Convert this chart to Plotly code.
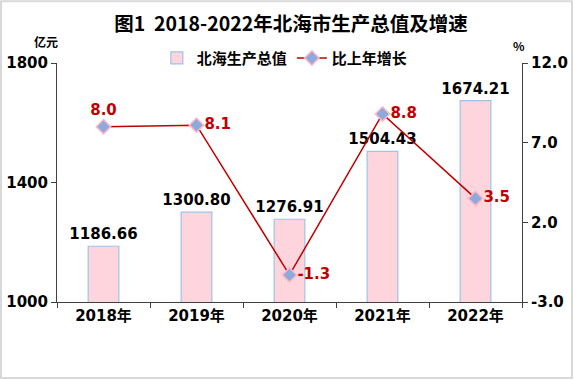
import plotly.graph_objects as go

years = ["2018年", "2019年", "2020年", "2021年", "2022年"]
gdp = [1186.66, 1300.80, 1276.91, 1504.43, 1674.21]
growth = [8.0, 8.1, -1.3, 8.8, 3.5]
gdp_labels = ["1186.66", "1300.80", "1276.91", "1504.43", "1674.21"]
growth_labels = ["8.0", "8.1", "-1.3", "8.8", "3.5"]
growth_pos = ["top center", "middle right", "middle right", "middle right", "middle right"]

FONT = "DejaVu Sans, Noto Sans CJK SC, sans-serif"
BOLD_CJK = "Noto Sans CJK SC, DejaVu Sans, sans-serif"

fig = go.Figure()
fig.add_trace(go.Bar(
    x=years, y=gdp, name="北海生产总值",
    marker=dict(color="#FFD5DD", line=dict(color="#9DC3E6", width=1.2)),
    width=0.33,
    text=gdp_labels, textposition="outside", cliponaxis=False, constraintext="none",
    textfont=dict(family=FONT, size=15, color="#000000", weight="bold"),
))
fig.add_trace(go.Scatter(
    x=years, y=growth, name="比上年增长", yaxis="y2",
    mode="lines+markers+text",
    line=dict(color="#C00000", width=1.5),
    marker=dict(symbol="diamond", size=11, color="#8EA9DB", line=dict(color="#FFB6C8", width=1.5)),
    text=growth_labels, textposition=growth_pos, cliponaxis=False,
    textfont=dict(family=FONT, size=15, color="#C00000", weight="bold"),
))

tickfont = dict(family=FONT, size=15, color="#000000", weight="bold")

fig.update_layout(
    width=574, height=380,
    margin=dict(l=57, r=52, t=63, b=78, autoexpand=False),
    paper_bgcolor="white", plot_bgcolor="white",
    font=dict(family=FONT, size=14, color="#000000"),
    title=dict(text="图1  2018-2022年北海市生产总值及增速", x=0.507, xanchor="center",
               y=0.937, yanchor="middle", font=dict(family=BOLD_CJK, size=19.5, color="#000000", weight="bold")),
    showlegend=True,
    legend=dict(orientation="h", x=0.49, xanchor="center", y=1.02, yanchor="middle",
                font=dict(family=BOLD_CJK, size=15, color="#000000", weight="bold"),
                bgcolor="rgba(0,0,0,0)", traceorder="normal"),
    xaxis=dict(type="category", showline=True, linecolor="#404040", linewidth=1,
               ticks="outside", tickson="boundaries", ticklen=5, tickcolor="#404040",
               tickfont=tickfont, automargin=False,
               showgrid=False, zeroline=False),
    yaxis=dict(range=[1000, 1800], tickvals=[1000, 1400, 1800], showline=True,
               linecolor="#404040", linewidth=1, ticks="outside", ticklen=5,
               tickcolor="#404040", showgrid=False, zeroline=False, automargin=False,
               tickfont=tickfont),
    yaxis2=dict(range=[-3, 12], tickvals=[-3, 2, 7, 12], ticktext=["-3.0", "2.0", "7.0", "12.0"],
                overlaying="y", side="right", showline=True, linecolor="#404040", linewidth=1,
                ticks="outside", ticklen=5, tickcolor="#404040", showgrid=False, zeroline=False,
                automargin=False, tickfont=tickfont),
    annotations=[
        dict(text="亿元", xref="paper", yref="paper", x=-0.024, y=1.088,
             xanchor="center", yanchor="middle", showarrow=False,
             font=dict(family=BOLD_CJK, size=12, color="#000000", weight="bold")),
        dict(text="%", xref="paper", yref="paper", x=0.994, y=1.075,
             xanchor="center", yanchor="middle", showarrow=False,
             font=dict(family=BOLD_CJK, size=12, color="#000000", weight="bold")),
    ],
    shapes=[dict(type="rect", xref="paper", yref="paper",
                 x0=-0.1204, x1=1.1075, y0=-0.318, y1=1.258,
                 line=dict(color="#D9D9D9", width=2), layer="below")],
)

fig.write_html("out.html", config={"displayModeBar": False},
               post_script="document.body.style.margin='0';document.body.style.overflow='hidden';")
